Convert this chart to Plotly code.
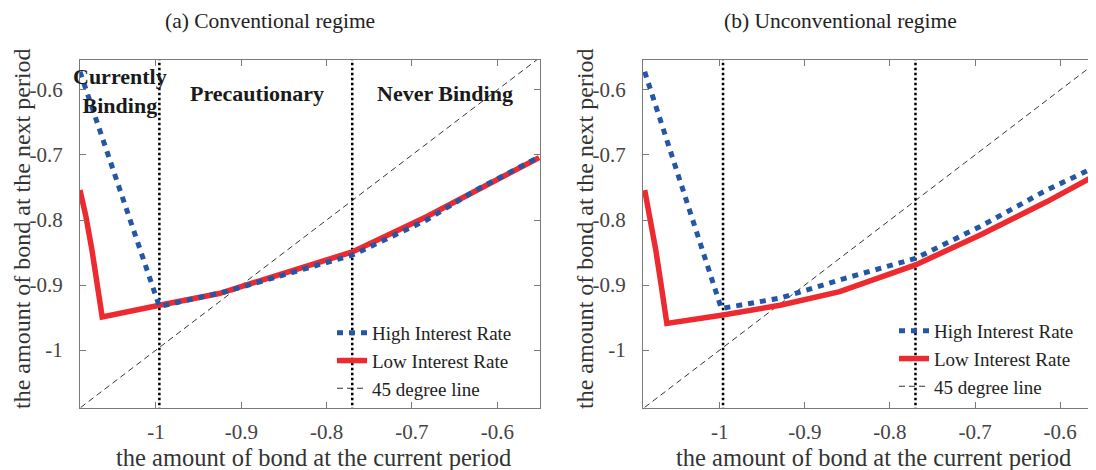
import plotly.graph_objects as go

# ---- data ----
x_high_a = [-1.089, -0.996, -0.918, -0.770, -0.683, -0.625, -0.551]
y_high_a = [-0.572, -0.933, -0.910, -0.854, -0.800, -0.754, -0.703]
x_low_a = [-1.089, -1.082, -1.075, -1.069, -1.063, -0.996, -0.926, -0.770, -0.683, -0.551]
y_low_a = [-0.754, -0.795, -0.846, -0.897, -0.949, -0.931, -0.913, -0.849, -0.795, -0.704]

x_high_b = [-1.088, -0.998, -0.929, -0.859, -0.770, -0.694, -0.616, -0.558]
y_high_b = [-0.572, -0.936, -0.920, -0.892, -0.859, -0.810, -0.754, -0.718]
x_low_b = [-1.088, -1.082, -1.075, -1.069, -1.062, -0.996, -0.929, -0.859, -0.770, -0.694, -0.616, -0.558]
y_low_b = [-0.754, -0.795, -0.846, -0.897, -0.959, -0.946, -0.931, -0.910, -0.869, -0.823, -0.772, -0.731]

line45 = [-1.2, -0.4]
thresholds = [-0.996, -0.770]

tick_vals = [-1.0, -0.9, -0.8, -0.7, -0.6]
tick_text = ["-1", "-0.9", "-0.8", "-0.7", "-0.6"]

xrange_a = [-1.089, -0.550]
xrange_b = [-1.090, -0.558]
yrange = [-1.089, -0.554]

titles = ["(a) Conventional regime", "(b) Unconventional regime"]
region_labels = ["Currently<br>Binding", "Precautionary", "Never Binding"]
region_x = [-1.042, -0.882, -0.661]
region_y = [-0.602, -0.606, -0.606]
xlabel = "the amount of bond at the current period"
ylabel = "the amount of bond at the next period"
names = ["High Interest Rate", "Low Interest Rate", "45 degree line"]

BLUE = "#2456A6"
RED = "#EC2A2F"
FONT = "Liberation Serif"

fig = go.Figure()

panels = [
    ("x", "y", "legend", x_high_a, y_high_a, x_low_a, y_low_a),
    ("x2", "y2", "legend2", x_high_b, y_high_b, x_low_b, y_low_b),
]
for xa, ya, lg, xh, yh, xl, yl in panels:
    fig.add_trace(go.Scatter(x=line45, y=line45, mode="lines", name=names[2],
                             line=dict(color="black", width=0.8, dash="6px,4px"),
                             xaxis=xa, yaxis=ya, legend=lg, legendrank=3))
    for t in thresholds:
        fig.add_trace(go.Scatter(x=[t, t], y=[-1.2, -0.4], mode="lines", showlegend=False,
                                 line=dict(color="black", width=2.5, dash="2.5px,2.5px"),
                                 xaxis=xa, yaxis=ya))
    fig.add_trace(go.Scatter(x=xl, y=yl, mode="lines", name=names[1],
                             line=dict(color=RED, width=5.5),
                             xaxis=xa, yaxis=ya, legend=lg, legendrank=2))
    fig.add_trace(go.Scatter(x=xh, y=yh, mode="lines", name=names[0],
                             line=dict(color=BLUE, width=5, dash="6px,6px"),
                             xaxis=xa, yaxis=ya, legend=lg, legendrank=1))

# page has an 8px body margin; figure sized to fit the 1096x470 window
OFF = 8
W, H = 1096 - OFF, 470 - OFF


def px(x):
    return (x - OFF) / W


def py(y):
    return 1 - (y - OFF) / H


dom_a = [px(80), px(540)]
dom_b = [px(643), 1.0]
dom_y = [py(408), py(60)]

axis_common = dict(
    showgrid=False, zeroline=False, showline=True, linecolor="#7a7a7a", linewidth=1,
    mirror="ticks", ticks="inside", ticklen=6, tickcolor="#7a7a7a",
    tickvals=tick_vals, ticktext=tick_text,
    tickfont=dict(family=FONT, size=21, color="#444444"),
)

fig.update_layout(
    width=W, height=H,
    margin=dict(l=0, r=0, t=0, b=0, autoexpand=False),
    plot_bgcolor="white", paper_bgcolor="white",
    font=dict(family=FONT, color="#222222"),
    xaxis=dict(domain=dom_a, range=xrange_a, anchor="y", ticklabelstandoff=5, **axis_common),
    yaxis=dict(domain=dom_y, range=yrange, anchor="x", ticklabelstandoff=12, **axis_common),
    xaxis2=dict(domain=dom_b, range=xrange_b, anchor="y2", ticklabelstandoff=5, **axis_common),
    yaxis2=dict(domain=dom_y, range=yrange, anchor="x2", ticklabelstandoff=12, **axis_common),
    legend=dict(x=px(332), y=py(314), xanchor="left", yanchor="top",
                bgcolor="rgba(0,0,0,0)", borderwidth=0, tracegroupgap=0,
                font=dict(family=FONT, size=19, color="#222222"), itemwidth=30),
    legend2=dict(x=px(894), y=py(312), xanchor="left", yanchor="top",
                 bgcolor="rgba(0,0,0,0)", borderwidth=0, tracegroupgap=0,
                 font=dict(family=FONT, size=19, color="#222222"), itemwidth=30),
    showlegend=True,
)

annotations = []
# panel titles
for txt, cx in zip(titles, [270, 840]):
    annotations.append(dict(text=txt, x=px(cx), y=py(21), xref="paper", yref="paper",
                            xanchor="center", yanchor="middle", showarrow=False,
                            font=dict(family=FONT, size=21.5, color="#222222")))
# axis titles
for cx in [313, 873]:
    annotations.append(dict(text=xlabel, x=px(cx), y=py(457), xref="paper", yref="paper",
                            xanchor="center", yanchor="middle", showarrow=False,
                            font=dict(family=FONT, size=24.5, color="#333333")))
for cx in [22, 585]:
    annotations.append(dict(text=ylabel, x=px(cx), y=py(229), xref="paper", yref="paper",
                            xanchor="center", yanchor="middle", textangle=-90, showarrow=False,
                            font=dict(family=FONT, size=24, color="#333333")))
# region labels (left panel)
for txt, rx, ry in zip(region_labels, region_x, region_y):
    annotations.append(dict(text="<b>" + txt + "</b>", x=rx, y=ry, xref="x", yref="y",
                            xanchor="center", yanchor="middle", showarrow=False,
                            font=dict(family=FONT, size=22, color="#1a1a1a")))
fig.update_layout(annotations=annotations)

fig.write_html("out.html")
